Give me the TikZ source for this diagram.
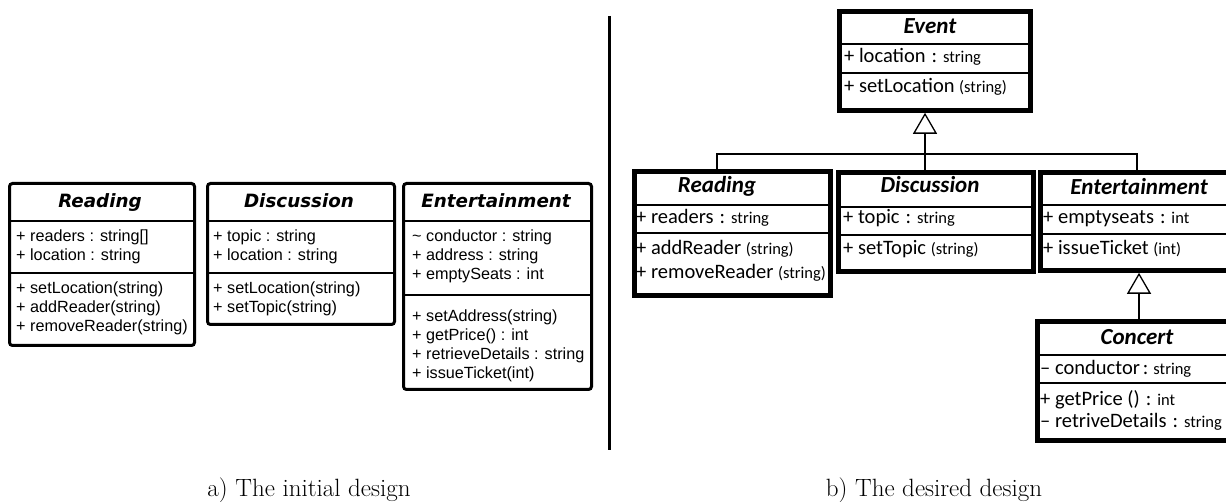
\documentclass[tikz,border=0pt]{standalone}
\usepackage{fontspec}
\usetikzlibrary{arrows.meta}
\newfontfamily\lbodyfont{Liberation Sans}
\newfontfamily\ltitlefont{DejaVu Sans Bold Oblique}
\newfontfamily\rbodyfont{Carlito}
\newfontfamily\rtitlefont{Carlito Bold Italic}
\newcommand\rsm{\fontsize{16.5}{20}\selectfont}
\newcommand\rcol{\hspace{6pt}:\hspace{6pt}}
\tikzset{
  lbox/.style={draw, line width=3pt, rounded corners=3pt, anchor=north west, inner sep=0pt},
  lsep/.style={line width=2pt},
  rbox/.style={draw, line width=4.8pt, anchor=north west, inner sep=0pt},
  rsep/.style={line width=1.3pt},
  conn/.style={line width=1.3pt},
  gen/.style={line width=1.3pt, -{Triangle[open, length=21pt, width=24pt]}},
  ltxt/.style={anchor=base west, inner sep=0pt, font=\lbodyfont\fontsize{16.2}{19}\selectfont},
  ltit/.style={anchor=base, inner sep=0pt, font=\ltitlefont\fontsize{18.3}{21}\selectfont},
  rtxt/.style={anchor=base west, inner sep=0pt, font=\rbodyfont\fontsize{20.5}{24}\selectfont},
  rtit/.style={anchor=base, inner sep=0pt, font=\rtitlefont\fontsize{23}{26}\selectfont},
  capt/.style={anchor=base, inner sep=0pt, font=\fontsize{25}{30}\selectfont},
}
\begin{document}
\begin{tikzpicture}[x=1pt,y=-1pt]
\path[fill=white,use as bounding box] (0,0) rectangle (1226,502);

% ---------- a) initial design ----------
\node[lbox, minimum width=185pt, minimum height=162pt] (lread) at (8,182) {};
\draw[lsep] (lread.west |- 0,221) -- (lread.east |- 0,221);
\draw[lsep] (lread.west |- 0,273) -- (lread.east |- 0,273);
\node[ltit] (lreadT) at (100,208) {Reading};
\node[ltxt] (lreadA1) at (16,242) {+ readers : string[]};
\node[ltxt] (lreadA2) at (16,261) {+ location : string};
\node[ltxt] (lreadM1) at (16,294) {+ setLocation(string)};
\node[ltxt] (lreadM2) at (16,313) {+ addReader(string)};
\node[ltxt] (lreadM3) at (16,332) {+ removeReader(string)};

\node[lbox, minimum width=187pt, minimum height=141pt] (ldisc) at (206,182) {};
\draw[lsep] (ldisc.west |- 0,221) -- (ldisc.east |- 0,221);
\draw[lsep] (ldisc.west |- 0,273) -- (ldisc.east |- 0,273);
\node[ltit] (ldiscT) at (299,208) {Discussion};
\node[ltxt] (ldiscA1) at (213,242) {+ topic : string};
\node[ltxt] (ldiscA2) at (213,261) {+ location : string};
\node[ltxt] (ldiscM1) at (213,294) {+ setLocation(string)};
\node[ltxt] (ldiscM2) at (213,313) {+ setTopic(string)};

\node[lbox, minimum width=188pt, minimum height=206pt] (lent) at (402,182) {};
\draw[lsep] (lent.west |- 0,221) -- (lent.east |- 0,221);
\draw[lsep] (lent.west |- 0,295) -- (lent.east |- 0,295);
\node[ltit] (lentT) at (496,208) {Entertainment};
\node[ltxt] (lentA1) at (412,242) {\char"007E{} conductor : string};
\node[ltxt] (lentA2) at (412,261) {+ address : string};
\node[ltxt] (lentA3) at (412,280) {+ emptySeats : int};
\node[ltxt] (lentM1) at (412,322) {+ setAddress(string)};
\node[ltxt] (lentM2) at (412,341) {+ getPrice() : int};
\node[ltxt] (lentM3) at (412,360) {+ retrieveDetails : string};
\node[ltxt] (lentM4) at (412,379) {+ issueTicket(int)};

% divider
\coordinate (divtop) at (609,16);
\coordinate (divbot) at (609,450);
\draw[line width=3pt] (divtop) -- (divbot);

% ---------- b) desired design ----------
\node[rbox, minimum width=191pt, minimum height=99pt] (event) at (837,9) {};
\draw[rsep] (event.west |- 0,44) -- (event.east |- 0,44);
\draw[rsep] (event.west |- 0,73) -- (event.east |- 0,73);
\node[rtit] (eventT) at (930,34) {Event};
\node[rtxt] (eventA1) at (844,63) {+ location\rcol{\rsm string}};
\node[rtxt] (eventM1) at (844,93) {+ setLocation {\rsm (string)}};

\node[rbox, minimum width=196pt, minimum height=124pt] (rread) at (632,169) {};
\draw[rsep] (rread.west |- 0,205) -- (rread.east |- 0,205);
\draw[rsep] (rread.west |- 0,233) -- (rread.east |- 0,233);
\node[rtit] (rreadT) at (717,193) {Reading};
\node[rtxt] (rreadA1) at (636,224) {+ readers\rcol{\rsm string}};
\node[rtxt] (rreadM1) at (636,255) {+ addReader {\rsm (string)}};
\node[rtxt] (rreadM2) at (636,279) {+ removeReader {\rsm (string)}};

\node[rbox, minimum width=195pt, minimum height=99pt] (rdisc) at (836,170) {};
\draw[rsep] (rdisc.west |- 0,207) -- (rdisc.east |- 0,207);
\draw[rsep] (rdisc.west |- 0,235) -- (rdisc.east |- 0,235);
\node[rtit] (rdiscT) at (930,193) {Discussion};
\node[rtxt] (rdiscA1) at (843,224) {+ topic\rcol{\rsm string}};
\node[rtxt] (rdiscM1) at (843,255) {+ setTopic {\rsm (string)}};

\node[rbox, minimum width=202pt, minimum height=98pt] (rent) at (1038,170) {};
\draw[rsep] (rent.west |- 0,205) -- (rent.east |- 0,205);
\draw[rsep] (rent.west |- 0,234) -- (rent.east |- 0,234);
\node[rtit] (rentT) at (1139,195) {Entertainment};
\node[rtxt] (rentA1) at (1043,224) {+ emptyseats\rcol{\rsm int}};
\node[rtxt] (rentM1) at (1043,255) {+ issueTicket {\rsm (int)}};

\node[rbox, minimum width=205pt, minimum height=119pt] (conc) at (1035,319) {};
\draw[rsep] (conc.west |- 0,355) -- (conc.east |- 0,355);
\draw[rsep] (conc.west |- 0,383) -- (conc.east |- 0,383);
\node[rtit] (concT) at (1137,345) {Concert};
\node[rtxt] (concA1) at (1040,375) {\textendash{} conductor\hspace{3pt}:\hspace{5pt}{\rsm string}};
\node[rtxt] (concM1) at (1040,406) {+ getPrice ()\rcol{\rsm int}};
\node[rtxt] (concM2) at (1040,427) {\textendash{} retriveDetails\rcol{\rsm string}};

% connectors
\coordinate (j1) at (717,154);
\coordinate (j2) at (925,154);
\coordinate (j3) at (1137,154);
\coordinate (j4) at (1139,300);
\draw[conn] (rread.north -| j1) -- (j1) -- (j3) -- (rent.north -| j3);
\draw[gen] (rdisc.north -| j2) -- (event.south -| j2);
\draw[gen] (conc.north -| j4) -- (rent.south -| j4);

% captions
\node[capt] (capA) at (309,496) {a) The initial design};
\node[capt] (capB) at (934,496) {b) The desired design};
\end{tikzpicture}
\end{document}
